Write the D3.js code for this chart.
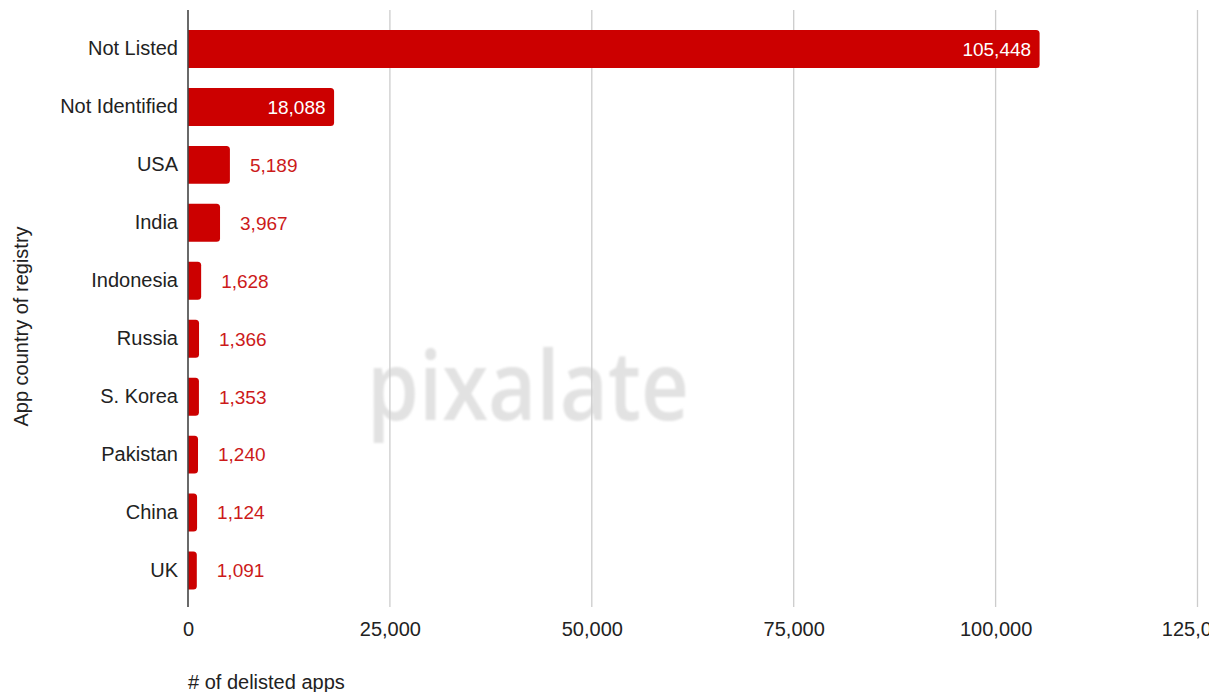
<!DOCTYPE html>
<html><head><meta charset="utf-8">
<script src="https://cdn.jsdelivr.net/npm/d3@7"></script>
<style>
html,body{margin:0;padding:0;background:#fff;}
svg{display:block;font-family:"Liberation Sans", Arial, sans-serif;}
</style></head>
<body><svg id="chart" width="1209" height="692"></svg>
<script>
const categories = ["Not Listed","Not Identified","USA","India","Indonesia","Russia","S. Korea","Pakistan","China","UK"];
const values = [105448,18088,5189,3967,1628,1366,1353,1240,1124,1091];
const xTicks = [0,25000,50000,75000,100000,125000];
const xTitle = "# of delisted apps";
const yTitle = "App country of registry";

const svg = d3.select("#chart");
const x = d3.scaleLinear().domain([0,125000]).range([188,1197.5]);
const y = d3.scaleBand().domain(categories).range([20,599.5]).paddingInner(0.345).paddingOuter(0.172);
const fmt = d3.format(",");

// watermark
const defs = svg.append("defs");
defs.append("filter").attr("id","blur").append("feGaussianBlur").attr("stdDeviation",1.2);
svg.append("text").attr("x",528).attr("y",420).attr("text-anchor","middle")
  .attr("font-size",96).attr("font-weight",600).attr("fill","#e2e2e2")
  .attr("textLength",322).attr("lengthAdjust","spacingAndGlyphs")
  .attr("filter","url(#blur)")
  .style("font-family","'Open Sans', Roboto, sans-serif").text("pixalate");

// gridlines
svg.append("g").selectAll("line").data(xTicks.slice(1)).join("line")
  .attr("x1",d=>x(d)).attr("x2",d=>x(d)).attr("y1",10).attr("y2",607)
  .attr("stroke","#cccccc").attr("stroke-width",1.3);

// x axis labels
const xAxis = d3.axisBottom(x).tickValues(xTicks).tickFormat(fmt).tickSize(0).tickPadding(0);
const gx = svg.append("g").attr("transform","translate(0,622)").call(xAxis);
gx.select(".domain").remove();
gx.selectAll("text").attr("font-size",20).attr("fill","#222").attr("dy","0.71em")
  .style("font-family","'Liberation Sans', Arial, sans-serif");

// bars
const r = 3.5;
svg.append("g").selectAll("path").data(values).join("path")
  .attr("fill","#cc0000")
  .attr("d",(d,i)=>{
    const x0 = x(0), x1 = x(d), y0 = y(categories[i]), h = y.bandwidth();
    const rr = Math.min(r,(x1-x0)/2);
    return `M${x0},${y0}H${x1-rr}Q${x1},${y0} ${x1},${y0+rr}V${y0+h-rr}Q${x1},${y0+h} ${x1-rr},${y0+h}H${x0}Z`;
  });

// value labels
svg.append("g").selectAll("text").data(values).join("text")
  .attr("y",(d,i)=>y(categories[i])+y.bandwidth()/2)
  .attr("dy","0.36em").attr("font-size",19)
  .each(function(d){
    const inside = d > 10000;
    d3.select(this)
      .attr("x", inside ? x(d)-8.5 : x(d)+20)
      .attr("text-anchor", inside ? "end" : "start")
      .attr("fill", inside ? "#ffffff" : "#cc1a1a");
  })
  .text(d=>fmt(d));

// y axis
const yAxis = d3.axisLeft(y).tickSize(0).tickPadding(10);
const gy = svg.append("g").attr("transform","translate(188,0)").call(yAxis);
gy.select(".domain").remove();
gy.selectAll("text").attr("font-size",20).attr("fill","#222")
  .style("font-family","'Liberation Sans', Arial, sans-serif");
svg.append("line").attr("x1",188).attr("x2",188).attr("y1",10).attr("y2",607)
  .attr("stroke","#444").attr("stroke-width",1.6);

// titles
svg.append("text").attr("x",188).attr("y",689).attr("font-size",20).attr("fill","#222").text(xTitle);
svg.append("text").attr("transform","translate(28,326.5) rotate(-90)").attr("text-anchor","middle")
  .attr("font-size",20).attr("fill","#222").text(yTitle);
</script></body></html>
